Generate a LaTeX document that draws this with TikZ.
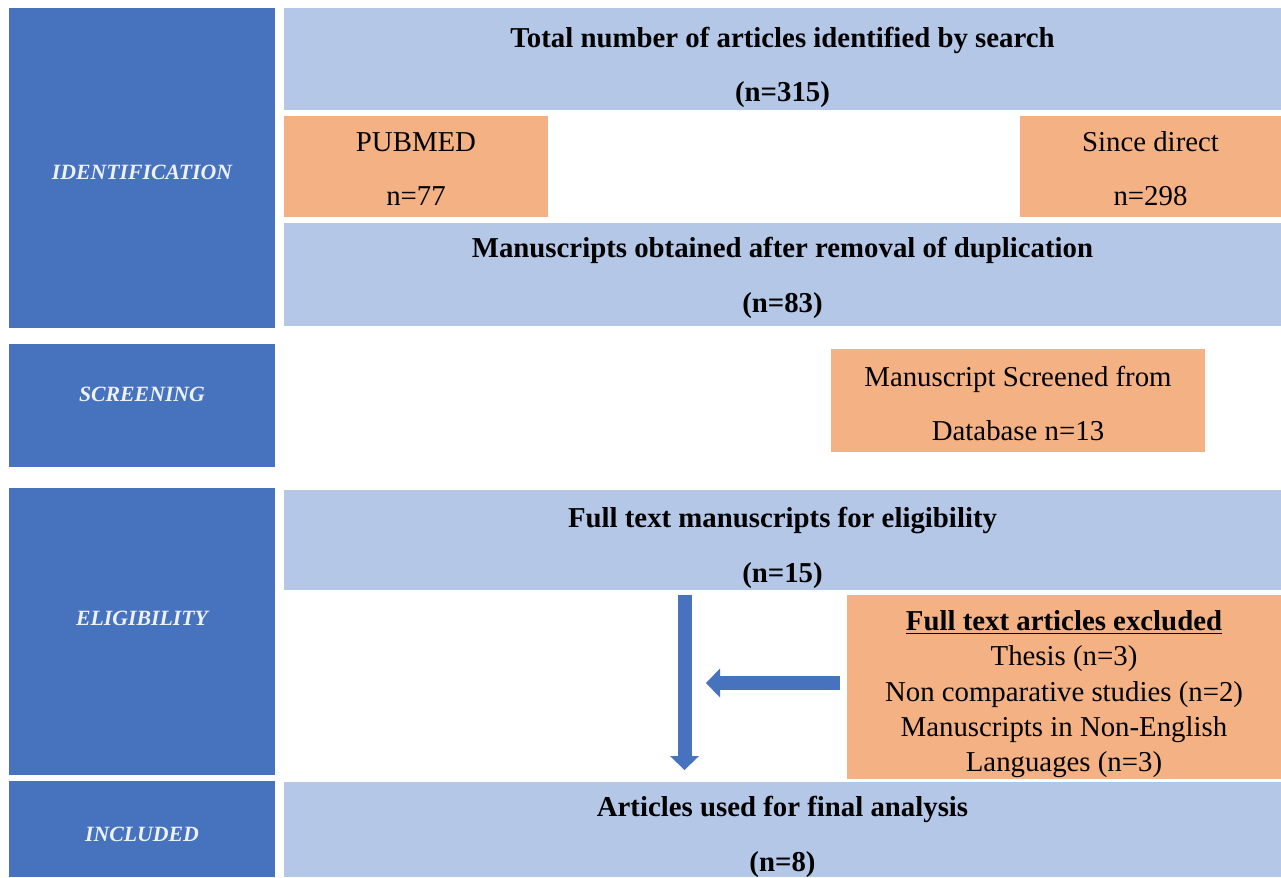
\documentclass[tikz,border=0pt]{standalone}
\usepackage{fontspec}
\setmainfont{Liberation Serif}
\usetikzlibrary{arrows.meta, positioning}
\definecolor{phaseblue}{RGB}{70,114,190}
\definecolor{paleblue}{RGB}{180,199,231}
\definecolor{peach}{RGB}{244,177,131}
\definecolor{labelwhite}{RGB}{236,241,250}
\newcommand{\dropby}[1]{\rule{0pt}{#1}}

\begin{document}
\begin{tikzpicture}[
    x=0.02cm, y=-0.02cm,
    phase/.style={rectangle, fill=phaseblue, minimum width=5.32cm, inner sep=0pt},
    phaselabel/.style={text=labelwhite, inner sep=0pt, font=\fontsize{12.4}{14}\selectfont\bfseries\itshape},
    stage/.style={rectangle, fill=paleblue, minimum width=19.94cm, inner sep=0pt, align=center, font=\fontsize{16.4}{31}\selectfont\bfseries},
    source/.style={rectangle, fill=peach, inner sep=0pt, align=center, font=\fontsize{16.4}{31}\selectfont},
    bigarrow/.style={-{Triangle[width=0.58cm, length=0.28cm, line width=0pt]}, line width=0.28cm, phaseblue}
]
\useasboundingbox (0,0) rectangle (1281,877);

% Phase column
\node[phase, minimum height=6.4cm] (idf) at (142,168) {};
\node[phase, minimum height=2.46cm] (scr) at (142,405.5) {};
\node[phase, minimum height=5.74cm] (elg) at (142,631.5) {};
\node[phase, minimum height=1.92cm] (inc) at (142,829) {};
\node[phaselabel] (idflabel) at (142,172) {IDENTIFICATION};
\node[phaselabel] (scrlabel) at (142,394) {SCREENING};
\node[phaselabel] (elglabel) at (142,618) {ELIGIBILITY};
\node[phaselabel] (inclabel) at (142,834) {INCLUDED};

% Identification
\node[stage, minimum height=2.04cm] (total) at (782.5,59) {\dropby{21pt}Total number of articles identified by search\\(n=315)};
\node[source, minimum width=5.28cm, minimum height=2.02cm] (pubmed) at (416,166.5) {\dropby{13.7pt}PUBMED\\n=77};
\node[source, minimum width=5.22cm, minimum height=2.02cm] (scidir) at (1150.5,166.5) {\dropby{13.7pt}Since direct\\n=298};
\node[stage, minimum height=2.06cm] (dedup) at (782.5,274.5) {\dropby{15.5pt}Manuscripts obtained after removal of duplication\\(n=83)};

% Screening
\node[source, minimum width=7.48cm, minimum height=2.06cm] (scrdb) at (1018,400.5) {\dropby{14.9pt}Manuscript Screened from\\Database n=13};

% Eligibility
\node[stage, minimum height=2.0cm] (fulltext) at (782.5,540) {\dropby{20.5pt}Full text manuscripts for eligibility\\(n=15)};
\node[source, minimum width=8.68cm, minimum height=3.68cm, font=\fontsize{16.4}{20}\selectfont] (excluded) at (1064,687)
  {\dropby{19.5pt}\underline{\textbf{Full text articles excluded}}\\Thesis (n=3)\\Non comparative studies (n=2)\\Manuscripts in Non-English\\Languages (n=3)};

% Included
\node[stage, minimum height=1.9cm] (final) at (782.5,829.5) {\dropby{20pt}Articles used for final analysis\\(n=8)};

% Arrows
\coordinate (downtip) at (684.5,770);
\coordinate (lefttip) at (706,683);
\draw[bigarrow, shorten <=0.1cm] (fulltext.south -| downtip) -- (downtip);
\draw[bigarrow, shorten <=0.14cm] (excluded.west |- lefttip) -- (lefttip);
\end{tikzpicture}
\end{document}
